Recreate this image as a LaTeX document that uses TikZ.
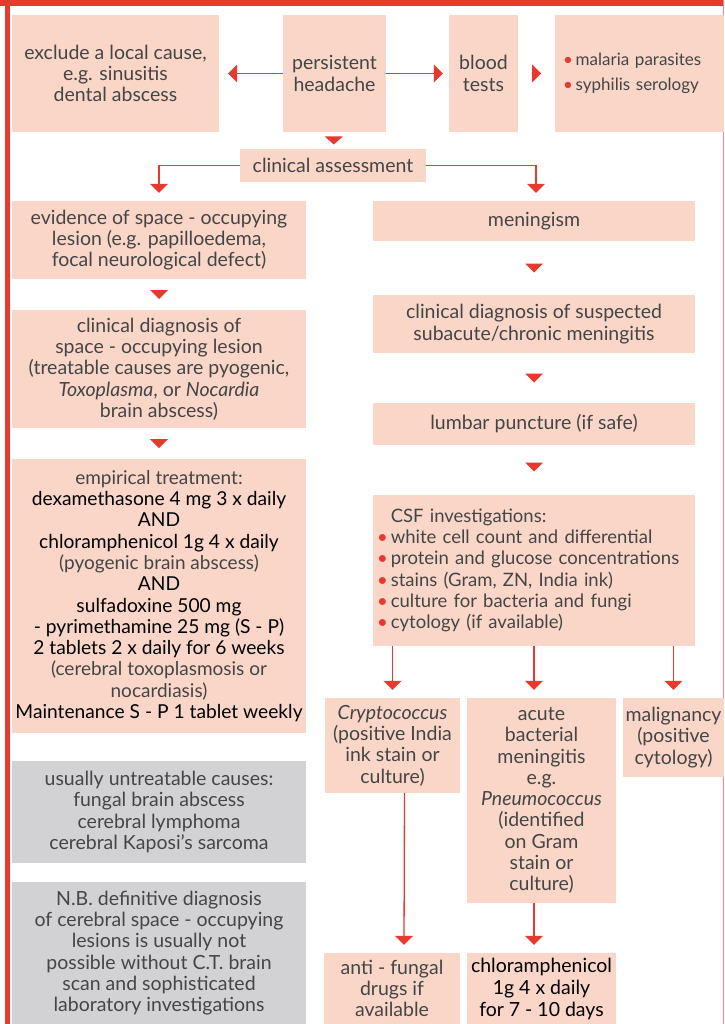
\documentclass[tikz,border=0pt]{standalone}
\usepackage{fontspec}
\setmainfont{Lato}
\usetikzlibrary{arrows.meta,calc}
\definecolor{ared}{HTML}{E8392F}
\definecolor{pk}{HTML}{F9D6C8}
\definecolor{gr}{HTML}{D2D2D4}
\definecolor{tx}{HTML}{454545}
\newcommand\rb{{\color{ared}\textbullet}\,}
\newcommand\emline{\color{black}\fontsize{19.2}{23.3}\selectfont}
\newcommand\nmline{\color{tx}\fontsize{19}{23.3}\selectfont}
\begin{document}
\begin{tikzpicture}[x=1pt,y=-1pt,
  box/.style={fill=pk, inner sep=0pt, align=center, text=tx, font=\fontsize{19.5}{21.3}\selectfont},
  gbox/.style={box, fill=gr},
  arr/.style={draw=ared, line width=1.3pt, -{Triangle[width=18pt,length=9pt]}},
  tri/.style={fill=ared}]
\useasboundingbox (0,0) rectangle (724,1024);
\clip (0,0) rectangle (724,1024);
% frame
\fill[ared] (0,0) rectangle (724,6);
\fill[ared] (5,0) rectangle (9.5,1024);
\draw[ared!60, line width=1pt] (723.3,0) -- (723.3,1024);
% top row
\node[box, minimum width=207, minimum height=117] (excl) at (115.5,73.5) {exclude a local cause,\\ e.g. sinusitis\\ dental abscess};
\node[box, minimum width=103, minimum height=117] (head) at (334.5,73.5) {persistent\\ headache};
\node[box, minimum width=69, minimum height=117] (blood) at (483.5,73.5) {blood\\ tests};
\node[box, minimum width=169, minimum height=117, text width=153, align=left, font=\fontsize{17}{25}\selectfont] (mal) at (639.5,73.5) {\rb malaria parasites\\ \rb syphilis serology};
\node[box, minimum width=186, minimum height=33] (assess) at (333,165.5) {clinical assessment};
% left column
\node[box, minimum width=294, minimum height=78] (evid) at (159,240) {evidence of space - occupying\\ lesion (e.g. papilloedema,\\ focal neurological defect)};
\node[box, minimum width=294, minimum height=118] (cdiag) at (159,369) {clinical diagnosis of\\ space - occupying lesion\\ (treatable causes are pyogenic,\\ \textit{Toxoplasma}, or \textit{Nocardia}\\ brain abscess)};
\node[box, minimum width=294, minimum height=274] (emp) at (159,596) {\nmline empirical treatment:\\ \emline dexamethasone 4 mg 3 x daily\\ \emline AND\\ \emline chloramphenicol 1g 4 x daily\\ \nmline (pyogenic brain abscess)\\ \emline AND\\ \emline sulfadoxine 500 mg\\ \emline - pyrimethamine 25 mg (S - P)\\ \emline 2 tablets 2 x daily for 6 weeks\\ \nmline (cerebral toxoplasmosis or\\ \nmline nocardiasis)\\ \emline Maintenance S - P 1 tablet weekly};
\node[gbox, minimum width=294, minimum height=102] (grey1) at (159,812) {usually untreatable causes:\\ fungal brain abscess\\ cerebral lymphoma\\ cerebral Kaposi's sarcoma};
\node[gbox, minimum width=294, minimum height=142] (grey2) at (159,953) {N.B. definitive diagnosis\\ of cerebral space - occupying\\ lesions is usually not\\ possible without C.T. brain\\ scan and sophisticated\\ laboratory investigations};
% right column
\node[box, minimum width=322, minimum height=40] (mening) at (534,221) {meningism};
\node[box, minimum width=322, minimum height=58] (susp) at (534,324) {clinical diagnosis of suspected\\ subacute/chronic meningitis};
\node[box, minimum width=322, minimum height=42] (lumb) at (534,424) {lumbar puncture (if safe)};
\node[box, minimum width=322, minimum height=151, text width=314, align=left, font=\fontsize{18.5}{21.3}\selectfont] (csf) at (534,570.5) {\hphantom{\rb}CSF investigations:\\ \rb white cell count and differential\\ \rb protein and glucose concentrations\\ \rb stains (Gram, ZN, India ink)\\ \rb culture for bacteria and fungi\\ \rb cytology (if available)};
\node[box, minimum width=135, minimum height=95] (crypto) at (392.5,745.5) {\textit{Cryptococcus}\\ (positive India\\ ink stain or\\ culture)};
\node[box, minimum width=149, minimum height=205] (acute) at (541.5,800.5) {acute\\ bacterial\\ meningitis\\ e.g.\\ \textit{Pneumococcus}\\ (identified\\ on Gram\\ stain or\\ culture)};
\node[box, minimum width=101, minimum height=79] (malig) at (673.5,737.5) {malignancy\\ (positive\\ cytology)};
\node[box, minimum width=136, minimum height=71] (antif) at (392,988.5) {anti - fungal\\ drugs if\\ available};
\node[box, minimum width=149, minimum height=71, text=black, font=\fontsize{19.5}{22}\selectfont] (chlor) at (541.5,988.5) {chloramphenicol\\ 1g 4 x daily\\ for 7 - 10 days};
% connectors
\draw[arr] (head.west) -- ($(excl.east)+(9,0)$);
\draw[arr] (head.east) -- ($(blood.west)+(-6,0)$);
\fill[tri] ($(blood.east)!0.5!(mal.west)$) ++(-4.5,-9) -- ++(9,9) -- ++(-9,9) -- cycle;
\fill[tri] ($(head.south)!0.5!(assess.north)$) ++(-9,-4) -- ++(18,0) -- ++(-9,8) -- cycle;
\draw[arr] (assess.west) -| ($(evid.north)+(0,-8)$);
\draw[arr] (assess.east) -| ($(mening.north)+(2,-8)$);
\fill[tri] ($(evid.south)!0.5!(cdiag.north)$) ++(-9,-4.5) -- ++(18,0) -- ++(-9,9) -- cycle;
\fill[tri] ($(cdiag.south)!0.5!(emp.north)$) ++(-9,-4.5) -- ++(18,0) -- ++(-9,9) -- cycle;
\fill[tri] ($(mening.south)!0.5!(susp.north)$) ++(-9,-4.5) -- ++(18,0) -- ++(-9,9) -- cycle;
\fill[tri] ($(susp.south)!0.5!(lumb.north)$) ++(-9,-4.5) -- ++(18,0) -- ++(-9,9) -- cycle;
\fill[tri] ($(lumb.south)!0.5!(csf.north)+(0,-3)$) ++(-9,-4.5) -- ++(18,0) -- ++(-9,9) -- cycle;
\draw[arr] (csf.south -| crypto.north) -- ($(crypto.north)+(0,-8)$);
\draw[arr] (csf.south) -- ($(csf.south |- acute.north)+(0,-8)$);
\draw[arr] (csf.south -| malig.north) -- ($(malig.north)+(0,-8)$);
\draw[arr] ($(crypto.south)+(12,0)$) -- ($(antif.north)+(12,-8)$);
\draw[arr] ($(acute.south)+(-7.5,0)$) -- ($(chlor.north)+(-7.5,-8)$);
\end{tikzpicture}
\end{document}
